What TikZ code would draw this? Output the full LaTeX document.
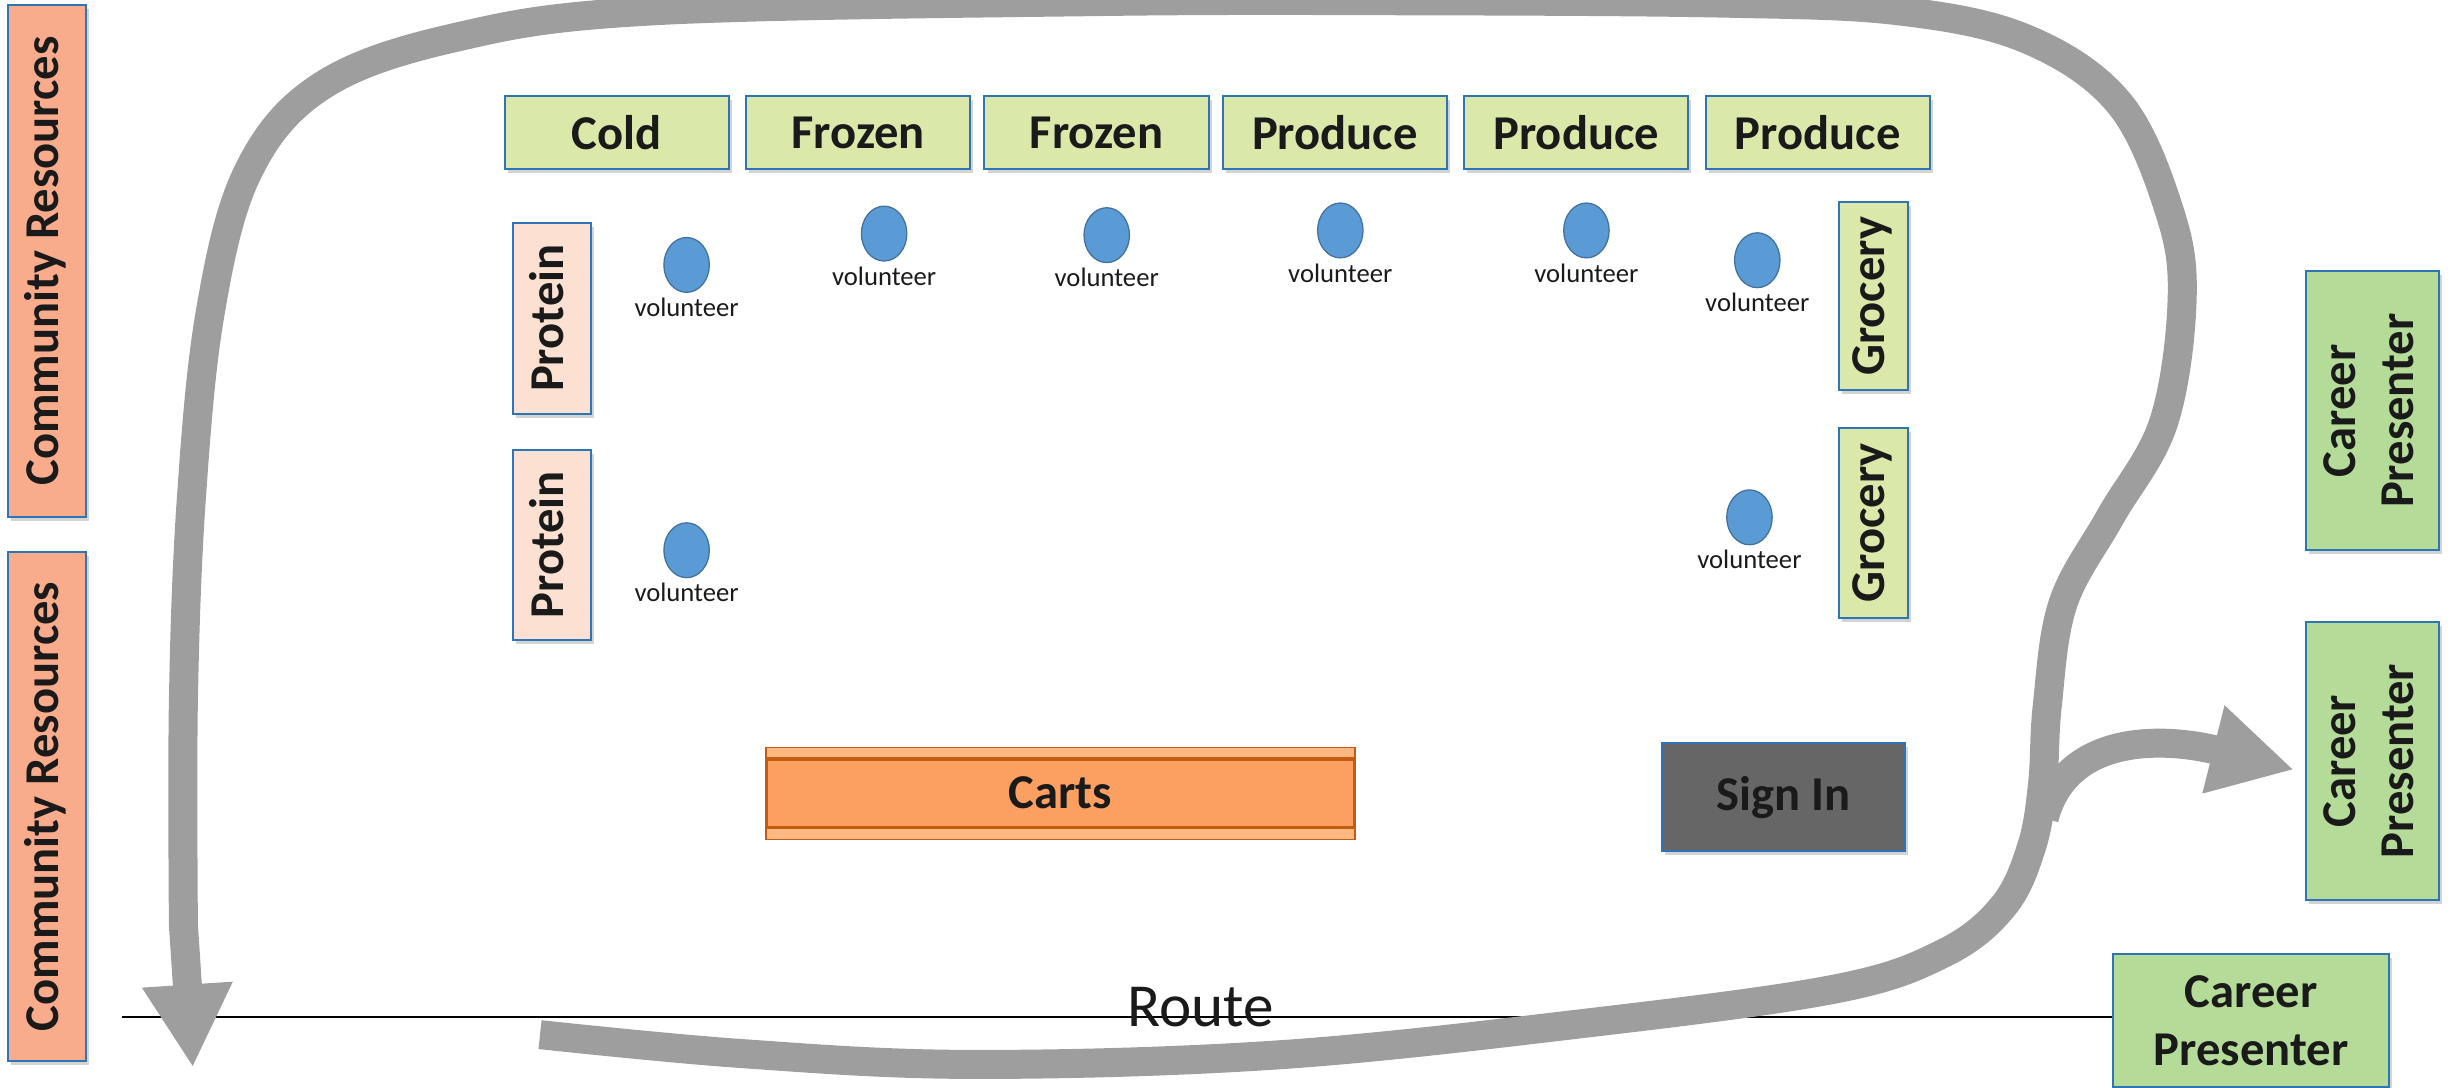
\documentclass[tikz,border=0pt]{standalone}
\usepackage{fontspec}
\usepackage{graphicx}
\setmainfont{Carlito}
\usetikzlibrary{arrows.meta,shadows,shapes.geometric}
\definecolor{bordblue}{RGB}{46,117,182}
\definecolor{crfill}{RGB}{248,172,140}
\definecolor{protfill}{RGB}{252,224,210}
\definecolor{grfill}{RGB}{218,232,170}
\definecolor{cpfill}{RGB}{180,220,152}
\definecolor{volfill}{RGB}{91,155,213}
\definecolor{volborder}{RGB}{65,113,156}
\definecolor{routegrey}{RGB}{158,158,158}
\definecolor{signfill}{RGB}{102,102,102}
\definecolor{cartfill}{RGB}{252,160,98}
\definecolor{cartlight}{RGB}{253,184,130}
\definecolor{cartborder}{RGB}{197,90,17}
\definecolor{txt}{RGB}{26,26,26}
\newcommand{\vtext}[1]{\rotatebox{90}{\begin{tabular}{@{}c@{}}#1\end{tabular}}}
\begin{document}
\begin{tikzpicture}[x=1pt,y=-1pt,
  box/.style={draw=bordblue, line width=1.3pt, inner sep=0pt, text=txt,
    font=\fontsize{31}{37}\selectfont\bfseries, align=center,
    drop shadow={shadow xshift=2pt,shadow yshift=-2.5pt,opacity=0.35}},
  crbox/.style={box, fill=crfill},
  protbox/.style={box, fill=protfill},
  grbox/.style={box, fill=grfill},
  cpbox/.style={box, fill=cpfill},
  vol/.style={ellipse, draw=volborder, line width=0.8pt, fill=volfill,
    minimum width=29pt, minimum height=35pt, inner sep=0pt,
    label={[font=\fontsize{17}{20}\selectfont, text=txt, inner sep=0pt, label distance=3pt]below:volunteer}},
  routepath/.style={draw=routegrey, line width=18.5pt},
  bigtip/.style={-{Triangle[width=54pt,length=53pt]}}
]
\useasboundingbox (0,0) rectangle (1568,694);

% route line and label
\node[cpbox, minimum width=176pt, minimum height=85pt] (cp3) at (1436,651) {Career\\Presenter};
\coordinate (routeleft) at (78,648.5);
\draw[line width=1.3pt, black] (routeleft) -- (routeleft -| cp3.west);
\node[font=\fontsize{39}{44}\selectfont, text=txt, anchor=base] (route) at (766,655) {Route};

% community resources
\node[crbox, minimum width=50pt, minimum height=327pt] (cr1) at (30,166.5) {\vtext{Community Resources}};
\node[crbox, minimum width=50pt, minimum height=325pt] (cr2) at (30,514.5) {\vtext{Community Resources}};

% top row
\foreach \n/\x/\t in {c1/393.5/Cold, c2/547.5/Frozen, c3/699.5/Frozen, c4/851.5/Produce, c5/1005.5/Produce, c6/1159.5/Produce}
  \node[grbox, minimum width=143pt, minimum height=47pt] (\n) at (\x,84.5) {\t};

% protein
\node[protbox, minimum width=50pt, minimum height=122pt] (p1) at (352,203) {\vtext{Protein}};
\node[protbox, minimum width=50pt, minimum height=121pt] (p2) at (352,347.5) {\vtext{Protein}};

% grocery
\node[grbox, minimum width=44pt, minimum height=120pt] (g1) at (1195,189) {\vtext{Grocery}};
\node[grbox, minimum width=44pt, minimum height=121pt] (g2) at (1195,333.5) {\vtext{Grocery}};

% career presenters
\node[cpbox, minimum width=85pt, minimum height=178pt] (cp1) at (1513.5,262) {\vtext{Career\\Presenter}};
\node[cpbox, minimum width=85pt, minimum height=177pt] (cp2) at (1513.5,485.5) {\vtext{Career\\Presenter}};

% carts
\node[draw=cartborder, line width=1.5pt, fill=cartfill, inner sep=0pt,
  minimum width=375pt, minimum height=58pt, text=txt,
  font=\fontsize{31}{37}\selectfont\bfseries] (carts) at (676.5,506) {};
\fill[cartlight] ([xshift=0.75pt,yshift=-0.75pt]carts.north west) rectangle ([xshift=-0.75pt,yshift=-7pt]carts.north east);
\fill[cartlight] ([xshift=0.75pt,yshift=0.75pt]carts.south west) rectangle ([xshift=-0.75pt,yshift=7pt]carts.south east);
\draw[cartborder, line width=2.2pt] ([yshift=-8pt]carts.north west) -- ([yshift=-8pt]carts.north east);
\draw[cartborder, line width=2.2pt] ([yshift=8pt]carts.south west) -- ([yshift=8pt]carts.south east);
\node[text=txt, font=\fontsize{31}{37}\selectfont\bfseries] (cartslabel) at (carts.center) {Carts};

% sign in
\node[box, fill=signfill, minimum width=155pt, minimum height=69pt] (sign) at (1137.5,508.5) {Sign In};

% volunteers
\node[vol] (v1) at (438,169) {};
\node[vol] (v2) at (564,149) {};
\node[vol] (v3) at (706,150) {};
\node[vol] (v4) at (855,147) {};
\node[vol] (v5) at (1012,147) {};
\node[vol] (v6) at (1121,166) {};
\node[vol] (v7) at (438,351) {};
\node[vol] (v8) at (1116,330) {};

% grey route arrow
\coordinate (pstart) at (344.5,660);
\coordinate (pend) at (123,681);
\draw[routepath, bigtip] plot[smooth, tension=0.6] coordinates {
  (344.5,660) (472,672) (619,679) (814,673) (1009,653) (1170,631) (1240,608)
  (1278,578) (1296,540) (1303,500) (1306,450) (1316,385) (1346,330) (1380,270)
  (1392,191) (1384,135) (1352,66) (1293,25) (1212,7) (1100,2) (900,0.5) (700,1)
  (415,7) (290,24) (205,55) (158,110) (134,200) (122,319) (117,447) (117,590)}
  -- (pend);
% branch to career presenter
\coordinate (bstart) at (1304,522);
\draw[routepath, bigtip] (bstart) .. controls (1318,468) and (1380,470) .. ([xshift=-7pt,yshift=-5.5pt]cp2.west);
\end{tikzpicture}
\end{document}
